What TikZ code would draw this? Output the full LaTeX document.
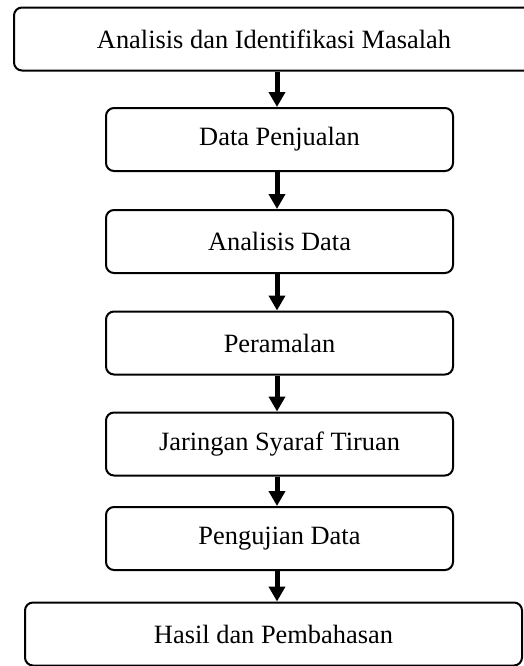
\documentclass[tikz,border=0pt]{standalone}
\usepackage{fontspec}
\setmainfont{Liberation Serif}
\usetikzlibrary{arrows.meta}

\begin{document}
\begin{tikzpicture}[x=0.5pt,y=-0.5pt,
  box/.style={draw, line width=1pt, rounded corners=4pt, minimum height=31.5pt,
    inner sep=0pt, font=\fontsize{13.2}{16}\selectfont},
  flow/.style={line width=2.5pt, -{Triangle[width=8pt,length=7.5pt]}}]

\useasboundingbox (0,0) rectangle (524,666);

\node[box, minimum width=260pt] (b1) at (274,39) {Analisis dan Identifikasi Masalah};
%
\foreach \i/\y/\t in {2/139.5/Data Penjualan, 3/241.5/Analisis Data, 4/343/Peramalan,
  5/444/Jaringan Syaraf Tiruan, 6/538.5/Pengujian Data}{
  \node[box, minimum width=173.5pt] (b\i) at (279.5,\y) {\t};
}
\node[box, minimum width=248.5pt] (b7) at (273.5,634) {Hasil dan Pembahasan};

\coordinate (ax) at (277,0);
\foreach \i [evaluate=\i as \j using int(\i+1)] in {1,...,6}{
  \draw[flow] (b\i.south -| ax) -- (b\j.north -| ax);
}

\end{tikzpicture}
\end{document}
